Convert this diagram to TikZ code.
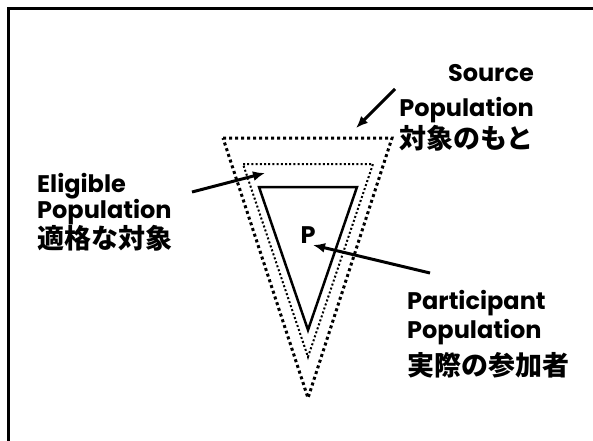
\documentclass[tikz,border=0pt]{standalone}
\usepackage{fontspec}
\setmainfont{Poppins}
\newfontfamily\jp{Noto Sans CJK JP}
\usetikzlibrary{arrows.meta}
\begin{document}
\begin{tikzpicture}[x=1pt,y=-1pt,
  lat/.style={font=\fontsize{24}{24}\selectfont\bfseries, inner sep=0pt},
  jpt/.style={font=\jp\fontsize{27}{27}\selectfont\bfseries, inner sep=0pt},
  outerdot/.style={line width=3pt, dash pattern=on 3pt off 3pt},
  innerdot/.style={line width=2pt, dash pattern=on 2pt off 2.2pt},
  solidtri/.style={line width=2.5pt, line join=miter},
  ptr/.style={line width=3pt, -{Latex[length=12pt,width=10pt]}},
  frame/.style={line width=2.5pt}]
\useasboundingbox[fill=white] (0,0) rectangle (593,440);
\draw[frame] (8.5,445) -- (8.5,8.5) -- (600,8.5);
% triangles
\draw[outerdot] (223,138) -- (392,138) -- (308,398) -- cycle;
\draw[innerdot] (243,164) -- (373,164) -- (308,357) -- cycle;
\draw[solidtri] (259,187) -- (357,187) -- (308,330) -- cycle;
\node[lat] (p) at (308,235) {P};
% labels
\node[lat, anchor=base east] (src1) at (534,81) {Source};
\node[lat, anchor=base east] (src2) at (534,116) {Population};
\node[jpt, anchor=base east] (src3) at (534,148) {対象のもと};
\node[lat, anchor=base west] (eli1) at (37,192) {Eligible};
\node[lat, anchor=base west] (eli2) at (37,218) {Population};
\node[jpt, anchor=base west] (eli3) at (37,248) {適格な対象};
\node[lat, anchor=base west] (par1) at (407,309) {Participant};
\node[lat, anchor=base west] (par2) at (407,338) {Population};
\node[jpt, anchor=base west] (par3) at (407,375) {実際の参加者};
% arrows
\coordinate (srcS) at (395,89);
\coordinate (srcT) at (356,128);
\coordinate (eliS) at (192,192);
\coordinate (eliT) at (265,173);
\coordinate (parS) at (430,273);
\coordinate (parT) at (313,245);
\draw[ptr] (srcS) -- (srcT);
\draw[ptr] (eliS) -- (eliT);
\draw[ptr] (parS) -- (parT);
\end{tikzpicture}
\end{document}
